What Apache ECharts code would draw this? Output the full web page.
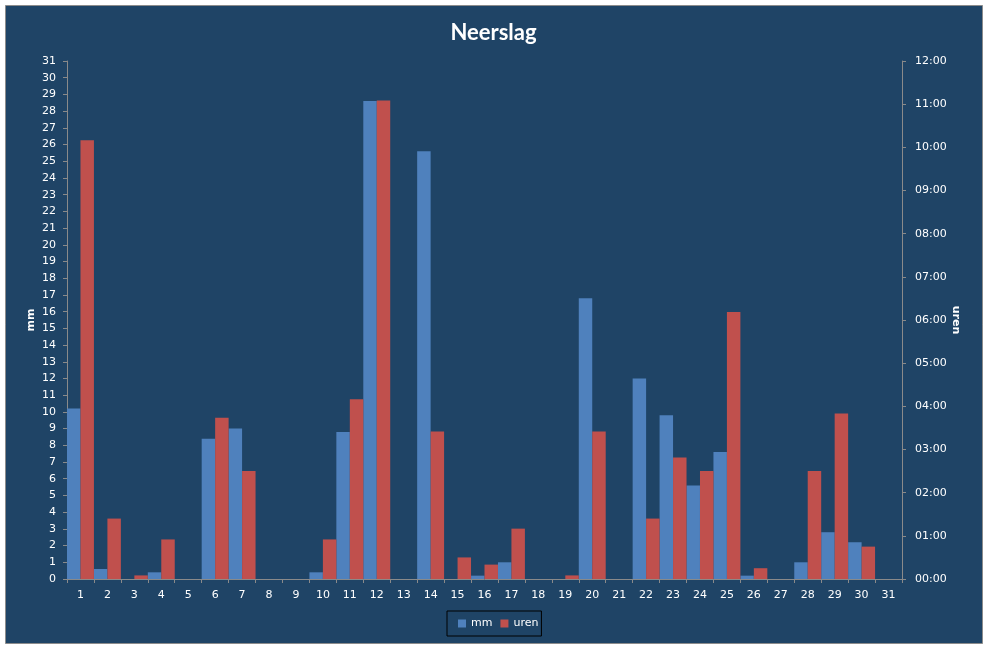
<!DOCTYPE html>
<html>
<head>
<meta charset="utf-8">
<title>Neerslag</title>
<script src="https://cdn.jsdelivr.net/npm/echarts@6/dist/echarts.min.js"></script>
<style>
  html, body { margin: 0; padding: 0; background: #ffffff; }
  #main { width: 987px; height: 648px; }
</style>
</head>
<body>
<div id="main"></div>
<script>
// dagen van de maand
var dagen = [];
for (var d = 1; d <= 31; d++) dagen.push(String(d));

// neerslag in mm per dag
var mm = [10.2, 0.6, 0, 0.4, 0, 8.4, 9.0, 0, 0, 0.4,
          8.8, 28.6, 0, 25.6, 0, 0.2, 1.0, 0, 0, 16.8,
          0, 12.0, 9.8, 5.6, 7.6, 0.2, 0, 1.0, 2.8, 2.2, 0];

// duur van de neerslag in minuten per dag
var uren = [610, 84, 5, 55, 0, 224, 150, 0, 0, 55,
            250, 665, 0, 205, 30, 20, 70, 0, 5, 205,
            0, 84, 169, 150, 371, 15, 0, 150, 230, 45, 0];

function tijd(min) {
  var h = Math.floor(min / 60), m = min % 60;
  return (h < 10 ? '0' : '') + h + ':' + (m < 10 ? '0' : '') + m;
}

var tekst = '#ffffff';
var lijn = '#8a8a8a';
var font = 'DejaVu Sans';

var myChart = echarts.init(document.getElementById('main'));

myChart.setOption({
  backgroundColor: 'transparent',
  animation: false,
  graphic: [{
    type: 'rect',
    z: -10,
    shape: { x: 5.5, y: 5.5, width: 977, height: 638 },
    style: { fill: '#1f4466', stroke: '#8c8c8c', lineWidth: 1 }
  }],
  title: {
    text: 'Neerslag',
    left: 'center',
    top: 17,
    textStyle: { color: tekst, fontFamily: 'Lato', fontWeight: 'bold', fontSize: 22 }
  },
  legend: {
    data: ['mm', 'uren'],
    left: 447,
    top: 611,
    itemWidth: 8,
    itemHeight: 8,
    itemGap: 8,
    icon: 'rect',
    padding: [7, 3, 7, 11],
    borderColor: '#000000',
    borderWidth: 1,
    textStyle: { color: tekst, fontFamily: font, fontSize: 11 }
  },
  grid: { left: 67, right: 85, top: 61, bottom: 69 },
  xAxis: {
    type: 'category',
    data: dagen,
    axisLine: { lineStyle: { color: lijn } },
    axisTick: { show: true, interval: 0, length: 4, lineStyle: { color: lijn } },
    axisLabel: { color: tekst, fontFamily: font, fontSize: 11, margin: 11, interval: 0 },
    splitLine: { show: false }
  },
  yAxis: [{
    type: 'value',
    name: 'mm',
    nameLocation: 'middle',
    nameGap: 30,
    nameMoveOverlap: false,
    nameTextStyle: { color: tekst, fontFamily: font, fontSize: 11, fontWeight: 'bold' },
    min: 0,
    max: 31,
    interval: 1,
    axisLine: { show: true, lineStyle: { color: lijn } },
    axisTick: { show: true, length: 4, lineStyle: { color: lijn } },
    axisLabel: { color: tekst, fontFamily: font, fontSize: 11, margin: 11 },
    splitLine: { show: false }
  }, {
    type: 'value',
    name: 'uren',
    nameLocation: 'middle',
    nameGap: 48,
    nameMoveOverlap: false,
    nameRotate: -90,
    nameTextStyle: { color: tekst, fontFamily: font, fontSize: 11, fontWeight: 'bold' },
    position: 'right',
    min: 0,
    max: 720,
    interval: 60,
    axisLine: { show: true, lineStyle: { color: lijn } },
    axisTick: { show: true, length: 4, lineStyle: { color: lijn } },
    axisLabel: { color: tekst, fontFamily: font, fontSize: 11, margin: 13, formatter: tijd },
    splitLine: { show: false }
  }],
  series: [{
    name: 'mm',
    type: 'bar',
    data: mm,
    yAxisIndex: 0,
    barGap: '0%',
    barCategoryGap: '0%',
    itemStyle: { color: '#4f81bd' }
  }, {
    name: 'uren',
    type: 'bar',
    data: uren,
    yAxisIndex: 1,
    barGap: '0%',
    barCategoryGap: '0%',
    itemStyle: { color: '#c0504d' }
  }]
});
</script>
</body>
</html>
